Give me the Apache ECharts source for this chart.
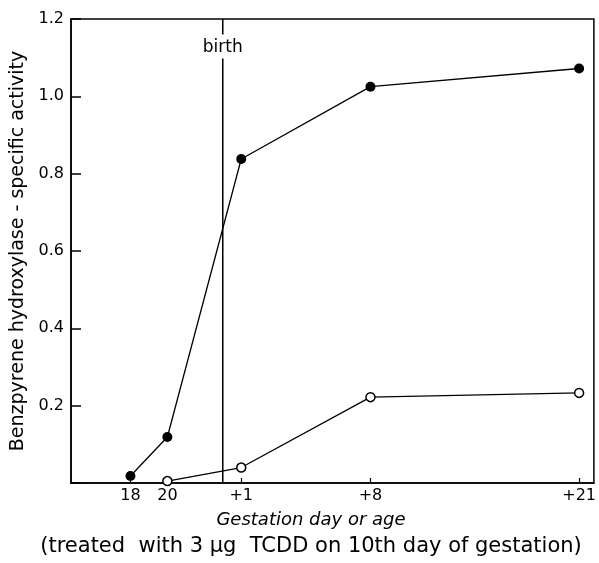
<!DOCTYPE html>
<html><head><meta charset="utf-8">
<script src="https://cdn.jsdelivr.net/npm/echarts@6/dist/echarts.min.js"></script>
<style>html,body{margin:0;padding:0;background:#fff}#c{width:599px;height:563px}</style>
</head><body><div id="c"></div>
<script>
// x positions on a gestation-day scale (birth ~ day 23)
const xLabels = ['18', '20', '+1', '+8', '+21'];
const xPositions = [18, 20, 24, 31, 42.3];
const filledValues = [0.018, 0.119, 0.838, 1.025, 1.072];
const openValues = [null, 0.005, 0.04, 0.222, 0.233];
const birthX = 23;
const birthLabelY = 1.125;

const font = 'DejaVu Sans';
const chart = echarts.init(document.getElementById('c'));
const pairs = (vals) => xPositions.map((x, i) => [x, vals[i]]).filter(p => p[1] !== null);

chart.setOption({
  animation: false,
  grid: { left: 71, top: 19, right: 1, bottom: 80, show: true, borderColor: '#000', borderWidth: 1.5 },
  xAxis: {
    type: 'value', min: 14.78, max: 43.1,
    splitLine: { show: false },
    axisLine: { lineStyle: { color: '#000', width: 1.5 } },
    axisTick: { inside: true, length: 5, customValues: xPositions, lineStyle: { color: '#000', width: 1.2 } },
    axisLabel: {
      customValues: xPositions, color: '#000', fontFamily: font, fontSize: 16, margin: 5,
      formatter: (v) => { const i = xPositions.indexOf(v); return i >= 0 ? xLabels[i] : ''; }
    }
  },
  yAxis: {
    type: 'value', min: 0, max: 1.2, interval: 0.2,
    splitLine: { show: false },
    axisLine: { lineStyle: { color: '#000', width: 1.5 } },
    axisTick: { inside: true, length: 10, lineStyle: { color: '#000', width: 1.5 } },
    axisLabel: {
      color: '#000', fontFamily: font, fontSize: 16, margin: 7,
      formatter: (v) => v === 0 ? '' : v.toFixed(1)
    },
    name: 'Benzpyrene hydroxylase - specific activity', nameLocation: 'middle', nameGap: 40,
    nameTextStyle: { color: '#000', fontFamily: font, fontSize: 19 }
  },
  series: [
    {
      type: 'line', data: [[birthX, 0], [birthX, 1.098], '-', [birthX, 1.16], [birthX, 1.2]], symbol: 'none',
      connectNulls: false,
      lineStyle: { color: '#000', width: 1.5 }
    },
    {
      type: 'line', data: pairs(filledValues), symbol: 'circle', symbolSize: 10,
      lineStyle: { color: '#000', width: 1.3 }, itemStyle: { color: '#000' }
    },
    {
      type: 'line', data: pairs(openValues), symbol: 'circle', symbolSize: 9,
      lineStyle: { color: '#000', width: 1.3 }, itemStyle: { color: '#fff', borderColor: '#000', borderWidth: 1.5 }
    }
  ]
});

const bp = chart.convertToPixel({ gridIndex: 0 }, [birthX, birthLabelY]);
chart.setOption({
  graphic: [
    {
      type: 'text', x: bp[0], y: bp[1],
      style: { text: 'birth', fill: '#000', font: '17px "DejaVu Sans"', align: 'center', verticalAlign: 'middle' }
    },
    {
      type: 'text', x: 311, y: 520,
      style: { text: 'Gestation day or age', fill: '#000', font: 'italic 18px "DejaVu Sans"', align: 'center', verticalAlign: 'middle' }
    },
    {
      type: 'text', x: 311, y: 547,
      style: { text: '(treated  with 3 \u03bcg  TCDD on 10th day of gestation)', fill: '#000', font: '21px "DejaVu Sans"', align: 'center', verticalAlign: 'middle' }
    }
  ]
});
</script></body></html>
